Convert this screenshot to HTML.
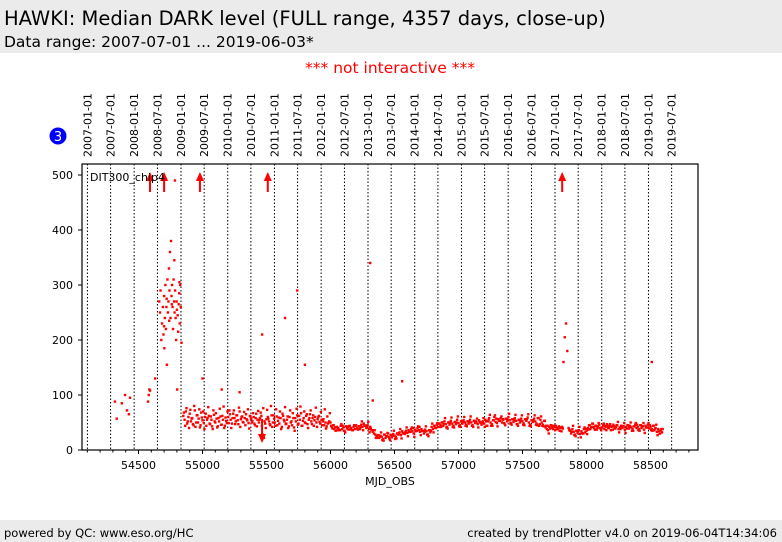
<!DOCTYPE html>
<html><head><meta charset="utf-8"><style>
body{margin:0;background:#fff;width:782px;height:542px;overflow:hidden;font-family:"DejaVu Sans","Liberation Sans",sans-serif}
svg{display:block}
</style></head><body>
<svg id="chart" width="782" height="542" xmlns="http://www.w3.org/2000/svg" font-family="DejaVu Sans, Liberation Sans, sans-serif">
<rect x="0" y="0" width="782" height="53" fill="#ebebeb"/>
<text x="4" y="25" font-size="19.5" fill="#000">HAWKI: Median DARK level (FULL range, 4357 days, close-up)</text>
<text x="4" y="47" font-size="15.5" fill="#000">Data range: 2007-07-01 ... 2019-06-03*</text>
<text x="390" y="73" font-size="15.5" fill="#ff0000" text-anchor="middle">*** not interactive ***</text>
<circle cx="58" cy="136" r="8.5" fill="#0000ff"/>
<text x="58" y="141" font-size="13" fill="#fff" text-anchor="middle">3</text>
<rect x="0" y="520" width="782" height="22" fill="#ebebeb"/>
<text x="4" y="537" font-size="11.5" fill="#000">powered by QC: www.eso.org/HC</text>
<text x="777" y="537" font-size="11.5" fill="#000" text-anchor="end">created by trendPlotter v4.0 on 2019-06-04T14:34:06</text>
<g id="vlines"></g><g id="marks"></g><g id="axes"></g>
</svg>
<script>
const dateLabels=["2007-01-01","2007-07-01","2008-01-01","2008-07-01","2009-01-01","2009-07-01","2010-01-01","2010-07-01","2011-01-01","2011-07-01","2012-01-01","2012-07-01","2013-01-01","2013-07-01","2014-01-01","2014-07-01","2015-01-01","2015-07-01","2016-01-01","2016-07-01","2017-01-01","2017-07-01","2018-01-01","2018-07-01","2019-01-01","2019-07-01"];
const dateMjd=[54101,54282,54466,54648,54832,55013,55197,55378,55562,55743,55927,56109,56293,56474,56658,56839,57023,57204,57388,57570,57754,57935,58119,58300,58484,58665];
const xTicks=[54500,55000,55500,56000,56500,57000,57500,58000,58500];
const yTicks=[0,100,200,300,400,500];
const earlyMjd=[54316,54330,54370,54395,54410,54425,54434,54575,54580,54585,54590,54630];
const earlyVal=[88,57,85,100,72,65,95,88,100,110,108,130];
const cloudMjd=[54662,54668,54672,54678,54684,54690,54695,54700,54702,54706,54710,54714,54718,54722,54726,54730,54734,54738,54742,54746,54750,54754,54758,54762,54766,54770,54774,54778,54782,54786,54790,54794,54798,54802,54806,54810,54814,54818,54822,54826,54830,54836,54700,54720,54740,54760,54780,54800,54820,54785];
const cloudVal=[270,250,290,200,230,260,210,280,185,240,300,220,260,155,310,250,270,330,290,360,240,380,280,300,260,220,310,270,250,290,240,200,270,110,245,215,265,285,230,300,260,195,225,275,235,265,345,255,305,490];
const stableStart=54850;
const stableStep=10;
const stableVal=[62,55,70,48,60,66,52,58,45,72,50,63,57,41,68,54,49,60,44,58,62,47,55,38,64,50,57,43,52,61,46,55,40,59,49,
60,72,55,48,66,58,52,63,47,70,56,61,50,58,65,54,49,62,57,53,60,45,66,55,50,58,62,28,22,48,56,60,52,45,63,50,57,44,61,53,
48,58,42,62,52,47,55,40,60,50,45,58,35,52,63,48,55,67,44,58,50,62,47,55,65,52,58,44,60,50,56,62,48,55,52,45,50,43,48,52,
50,42,45,38,35,42,40,36,44,38,41,35,43,39,37,44,40,36,42,38,45,40,43,38,46,42,48,44,40,45,38,42,36,33,30,28,25,27,22,26,
24,20,28,22,25,30,21,27,23,29,26,24,30,28,32,27,34,30,29,35,31,36,33,38,34,30,37,35,40,36,33,38,35,30,37,34,28,36,32,42,
38,44,40,46,42,48,45,50,44,52,47,42,50,46,53,48,44,51,47,55,49,45,52,48,54,50,46,52,48,55,50,45,53,49,51,47,54,50,46,52,
48,55,44,52,58,50,47,54,60,51,49,56,53,58,50,55,48,57,52,60,54,49,56,51,58,53,47,55,50,57,52,48,56,53,59,50,46,54,51,57,
52,48,58,44,55,50,46,53,41,38,36,42,45,40,38,42,44,38,40,35,40,42,160,205,230,180,40,35,30,38,33,28,35,31,36,29,34,30,38,32,
35,40,45,38,42,48,40,44,37,43,46,39,41,45,38,42,47,40,44,36,43,46,39,42,45,38,41,44,40,43,37,42,45,39,44,41,38,43,46,40,
42,38,45,40,43,37,44,41,46,39,42,38,44,36,40,33,38,30,35,32];
const stableVal2=[68,44,76,52,40,73,57,47,80,42,63,50,74,45,59,70,38,66,55,78,48,61,43,72,52,67,41,58,75,46,
62,79,44,53,70,49,65,40,58,72,47,63,54,77,42,60,51,69,45,56,74,39,61,50,67,48,58,43,71,55];
const outlierMjd=[55466,55645,55740,55800,56310,56330,56560,58510,55000,55150,55290];
const outlierVal=[210,240,290,155,340,90,125,160,130,110,105];
const upArrowMjd=[54590,54700,54980,55510,57810];
const downArrowMjd=[55465];
const downArrowVal=[20];

const X0=82,X1=698,Y0=450,Y1=164;
function xs(m){return 138.5+(m-54500)*0.128;}
function ys(v){return 450-v*0.55;}
const NS="http://www.w3.org/2000/svg";
function mk(tag,attrs,parent){const e=document.createElementNS(NS,tag);for(const k in attrs)e.setAttribute(k,attrs[k]);parent.appendChild(e);return e;}
const vg=document.getElementById('vlines'),mg=document.getElementById('marks'),ag=document.getElementById('axes');

dateMjd.forEach((m,i)=>{
  const x=xs(m);
  const l=mk('line',{x1:x,x2:x,y1:Y1,y2:Y0,stroke:'#000','stroke-width':1,'stroke-dasharray':'1.5,2'},vg);
  
  
  const t=mk('text',{x:0,y:0,'font-size':11,transform:`translate(${x+4},157) rotate(-90)`,fill:'#000'},ag);
  t.textContent=dateLabels[i];
  
  
});

function dot(m,v){
  const c=mk('rect',{x:xs(m)-1.2,y:ys(v)-1.2,width:2.4,height:2.4,fill:'#ff0000'},mg);
  
  
}
earlyMjd.forEach((m,i)=>dot(m,earlyVal[i]));
cloudMjd.forEach((m,i)=>dot(m,cloudVal[i]));
stableVal.forEach((v,i)=>{
  const m=stableStart+i*stableStep;
  dot(m,v);
  if(m<56000){ dot(m+5,stableVal2[i%stableVal2.length]); }
  else if(v<100){ dot(m+5,v+((i%5)-2)*3); }
});
outlierMjd.forEach((m,i)=>dot(m,outlierVal[i]));

upArrowMjd.forEach(m=>{
  const x=xs(m);
  const g=mk('g',{},mg);
  
  
  mk('line',{x1:x,x2:x,y1:192,y2:178,stroke:'#ff0000','stroke-width':2},g);
  mk('polygon',{points:`${x-4},181 ${x+4},181 ${x},172`,fill:'#ff0000'},g);
});
downArrowMjd.forEach((m,i)=>{
  const x=xs(m),y=ys(downArrowVal[i]);
  const g=mk('g',{},mg);
  
  
  mk('line',{x1:x,x2:x,y1:y-20,y2:y-3,stroke:'#ff0000','stroke-width':2},g);
  mk('polygon',{points:`${x-4},${y-5} ${x+4},${y-5} ${x},${y+4}`,fill:'#ff0000'},g);
});

const frame=mk('rect',{x:X0,y:Y1,width:X1-X0,height:Y0-Y1,fill:'none',stroke:'#000','stroke-width':1.2},ag);


const lbl=mk('text',{x:90,y:181,'font-size':11,fill:'#000'},ag);
lbl.textContent='DIT300_chip4';



for(let m=54100;m<=58800;m+=100){
  const x=xs(m); if(x<X0||x>X1)continue;
  const major=m%500===0;
  mk('line',{x1:x,x2:x,y1:Y0,y2:Y0+(major?4:2.5),stroke:'#000','stroke-width':1},ag);
}
xTicks.forEach(m=>{
  const t=mk('text',{x:xs(m),y:469,'font-size':11,'text-anchor':'middle',fill:'#000'},ag);
  t.textContent=m;
  
  
});
yTicks.forEach(v=>{
  const y=ys(v);
  mk('line',{x1:X0-4,x2:X0,y1:y,y2:y,stroke:'#000','stroke-width':1},ag);
  const t=mk('text',{x:73,y:y+4,'font-size':11,'text-anchor':'end',fill:'#000'},ag);
  t.textContent=v;
  
  
});
const xt=mk('text',{x:390,y:485,'font-size':11,'text-anchor':'middle',fill:'#000'},ag);
xt.textContent='MJD_OBS';


</script>
</body></html>
